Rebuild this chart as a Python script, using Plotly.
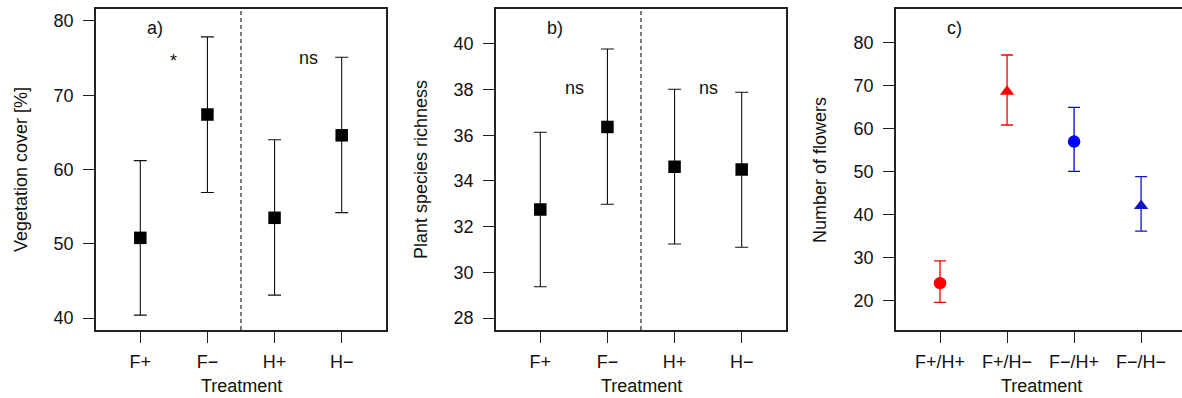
import plotly.graph_objects as go

# ---------------- data ----------------
treat_ab = ["F+", "F−", "H+", "H−"]
veg_mean = [50.8, 67.4, 53.5, 64.6]
veg_upper = [61.2, 77.85, 64.0, 75.1]
veg_lower = [40.4, 56.9, 43.1, 54.2]

rich_mean = [32.75, 36.36, 34.62, 34.5]
rich_upper = [36.13, 39.77, 38.01, 37.88]
rich_lower = [29.37, 32.98, 31.24, 31.1]

treat_c = ["F+/H+", "F+/H−", "F−/H+", "F−/H−"]
flow_mean = [24.0, 68.6, 56.95, 42.0]
flow_upper = [29.2, 77.1, 64.9, 48.8]
flow_lower = [19.55, 60.8, 50.0, 36.1]
flow_colors = ["#ff0000", "#ff0000", "#0000ff", "#1515c8"]
flow_symbols = ["circle", "triangle-up", "circle", "triangle-up"]

FONT = "Liberation Sans, Arial, sans-serif"
FS = 18
W, H = 1182, 398

def px(x):
    return x / W

def py(y):
    return 1 - y / H

xdom = {1: [px(96), px(386)], 2: [px(496), px(786)], 3: [px(896), 1.0]}
ydom = [py(330), py(9)]

fig = go.Figure()

def errs(mean, up, lo):
    return [u - m for u, m in zip(up, mean)], [m - l for m, l in zip(mean, lo)]

pos = [1, 2, 3, 4]

e_up, e_lo = errs(veg_mean, veg_upper, veg_lower)
fig.add_trace(go.Scatter(x=pos, y=veg_mean, mode="markers", xaxis="x", yaxis="y",
                         marker=dict(symbol="square", size=12.5, color="black"),
                         error_y=dict(type="data", array=e_up, arrayminus=e_lo,
                                      color="#111", thickness=1.1, width=6.5),
                         showlegend=False))

e_up, e_lo = errs(rich_mean, rich_upper, rich_lower)
fig.add_trace(go.Scatter(x=pos, y=rich_mean, mode="markers", xaxis="x2", yaxis="y2",
                         marker=dict(symbol="square", size=12.5, color="black"),
                         error_y=dict(type="data", array=e_up, arrayminus=e_lo,
                                      color="#111", thickness=1.1, width=6.5),
                         showlegend=False))

for i in range(4):
    fig.add_trace(go.Scatter(x=[pos[i]], y=[flow_mean[i]], mode="markers", xaxis="x3", yaxis="y3",
                             marker=dict(symbol=flow_symbols[i], size=12.5, color=flow_colors[i]),
                             error_y=dict(type="data", array=[flow_upper[i] - flow_mean[i]],
                                          arrayminus=[flow_mean[i] - flow_lower[i]],
                                          color=flow_colors[i], thickness=1.3, width=6),
                             showlegend=False))

axis_common = dict(showgrid=False, zeroline=False, ticks="outside", ticklen=11,
                   tickcolor="#222", tickwidth=1.2, linecolor="#222", linewidth=1.5,
                   tickfont=dict(family=FONT, size=FS, color="#111"))
xstand = 4
ystand = 6

fig.update_layout(
    width=W, height=H, margin=dict(l=0, r=0, t=0, b=0),
    paper_bgcolor="white", plot_bgcolor="white",
    xaxis=dict(domain=xdom[1], range=[0.34, 4.66], tickvals=pos, ticktext=treat_ab,
               showline=True, mirror=True, ticklabelstandoff=xstand, anchor="y", **axis_common),
    yaxis=dict(domain=ydom, range=[38.4, 81.6], tickvals=[40, 50, 60, 70, 80],
               showline=True, mirror=True, ticklabelstandoff=ystand, anchor="x", **axis_common),
    xaxis2=dict(domain=xdom[2], range=[0.34, 4.66], tickvals=pos, ticktext=treat_ab,
                showline=True, mirror=True, ticklabelstandoff=xstand, anchor="y2", **axis_common),
    yaxis2=dict(domain=ydom, range=[27.48, 41.52], tickvals=[28, 30, 32, 34, 36, 38, 40],
                showline=True, mirror=True, ticklabelstandoff=ystand, anchor="x2", **axis_common),
    xaxis3=dict(domain=xdom[3], range=[0.343, 4.61], tickvals=pos, ticktext=treat_c,
                showline=True, mirror=True, ticklabelstandoff=xstand, anchor="y3", **axis_common),
    yaxis3=dict(domain=ydom, range=[13.1, 87.8], tickvals=[20, 30, 40, 50, 60, 70, 80],
                showline=True, mirror=False, ticklabelstandoff=ystand, anchor="x3", **axis_common),
)

# dashed separators
for xr, yr in [("x", "y domain"), ("x2", "y2 domain")]:
    fig.add_shape(type="line", xref=xr, yref=yr, x0=2.5, x1=2.5, y0=0, y1=1,
                  line=dict(color="#111", width=1.1, dash="4px,3px"))

def ann(text, x, y, xref, yref, size=FS, **kw):
    fig.add_annotation(text=text, x=x, y=y, xref=xref, yref=yref, showarrow=False,
                       xanchor="center", yanchor="middle",
                       font=dict(family=FONT, size=size, color="#111"), **kw)

# panel labels and significance
ann("a)", 1.22, 79.0, "x", "y")
ann("*", 1.5, 74.6, "x", "y")
ann("ns", 3.5, 75.0, "x", "y")
ann("b)", 1.22, 40.7, "x2", "y2")
ann("ns", 1.51, 38.05, "x2", "y2")
ann("ns", 3.51, 38.05, "x2", "y2")
ann("c)", 1.22, 83.4, "x3", "y3")

# axis titles
for xc in [241, 641, 1041]:
    ann("Treatment", px(xc), py(386), "paper", "paper")
ann("Vegetation cover [%]", px(21), py(170), "paper", "paper", textangle=-90)
ann("Plant species richness", px(421), py(170), "paper", "paper", textangle=-90)
ann("Number of flowers", px(820), py(170), "paper", "paper", textangle=-90)

fig.write_html("out.html")
